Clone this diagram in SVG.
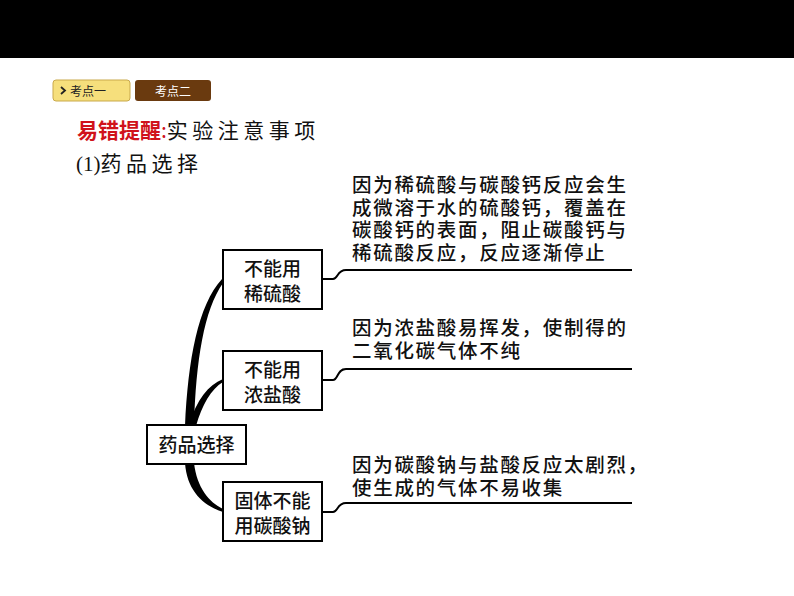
<svg xmlns="http://www.w3.org/2000/svg" width="794" height="596" viewBox="0 0 794 596">
<style>
.box{fill:#fff;stroke:#000;stroke-width:2}
.bt{font-family:"Liberation Sans","Noto Sans CJK SC",sans-serif;font-size:19px;fill:#111;text-anchor:middle;font-weight:500}
.rt{font-family:"Liberation Sans","Noto Sans CJK SC",sans-serif;font-size:19.5px;letter-spacing:1.7px;fill:#111;font-weight:500}
.con{fill:none;stroke:#000;stroke-width:2}
.trunk{fill:#000}
</style>
<rect x="0" y="0" width="794" height="58" fill="#000"/>
<g id="tab1">
<rect x="53" y="80" width="77" height="21" rx="3" fill="#f6df7c" stroke="#c9a94b"/>
<path d="M61 87 L65 90.5 L61 94" fill="none" stroke="#222" stroke-width="1.8"/>
<text x="70" y="95.5" font-family="Noto Sans CJK SC,sans-serif" font-size="12" fill="#222">考点一</text>
</g>
<g id="tab2">
<rect x="135" y="80" width="76" height="21" rx="3" fill="#6a3a0f"/>
<text x="173" y="95.5" font-family="Noto Sans CJK SC,sans-serif" font-size="12" fill="#fff" text-anchor="middle">考点二</text>
</g>
<g id="title">
<text x="77" y="138" font-family="Noto Sans CJK SC,sans-serif" font-size="21"><tspan fill="#d0121b" font-weight="700">易错提醒</tspan><tspan fill="#d0121b">:</tspan><tspan fill="#111" letter-spacing="4.5">实验注意事项</tspan></text>
<text x="76" y="171" font-size="21" fill="#111"><tspan font-family="Liberation Serif,serif">(1)</tspan><tspan font-family="Noto Sans CJK SC,sans-serif" letter-spacing="4.5">药品选择</tspan></text>
</g>
<g id="connectors">
<path class="trunk" d="M185 426 C188 360 198 305 222 279 L223 283 C204 310 196 360 194 426 Z"/>
<path class="trunk" d="M189 424 C197 400 208 385 223 379 L223 382 C211 389 202 405 196 426 Z"/>
<path class="trunk" d="M185 463 C187 490 202 505 223 512 L223 509 C209 502 197 488 194 463 Z"/>
<path class="con" d="M322 279 L333 279 C338 279 337 270 346 270 L632 270"/>
<path class="con" d="M322 380 L333 380 C338 380 337 369 346 369 L632 369"/>
<path class="con" d="M322 512 L333 512 C338 512 337 503 346 503 L632 503"/>
</g>
<g id="root">
<rect class="box" x="147" y="425" width="99" height="39"/>
<text class="bt" x="196.5" y="452">药品选择</text>
</g>
<g id="n1">
<rect class="box" x="223" y="250" width="99" height="59"/>
<text class="bt" x="272.5" y="276">不能用<tspan x="272.5" dy="25">稀硫酸</tspan></text>
</g>
<g id="n2">
<rect class="box" x="223" y="351" width="99" height="59"/>
<text class="bt" x="272.5" y="377">不能用<tspan x="272.5" dy="25">浓盐酸</tspan></text>
</g>
<g id="n3">
<rect class="box" x="223" y="482" width="99" height="59"/>
<text class="bt" x="272.5" y="508">固体不能<tspan x="272.5" dy="25">用碳酸钠</tspan></text>
</g>
<g id="r1">
<text class="rt" x="352" y="192">因为稀硫酸与碳酸钙反应会生<tspan x="352" dy="22.7">成微溶于水的硫酸钙，覆盖在</tspan><tspan x="352" dy="22.7">碳酸钙的表面，阻止碳酸钙与</tspan><tspan x="352" dy="22.7">稀硫酸反应，反应逐渐停止</tspan></text>
</g>
<g id="r2">
<text class="rt" x="352" y="335">因为浓盐酸易挥发，使制得的<tspan x="352" dy="23">二氧化碳气体不纯</tspan></text>
</g>
<g id="r3">
<text class="rt" x="352" y="472">因为碳酸钠与盐酸反应太剧烈，<tspan x="352" dy="23">使生成的气体不易收集</tspan></text>
</g>
</svg>
